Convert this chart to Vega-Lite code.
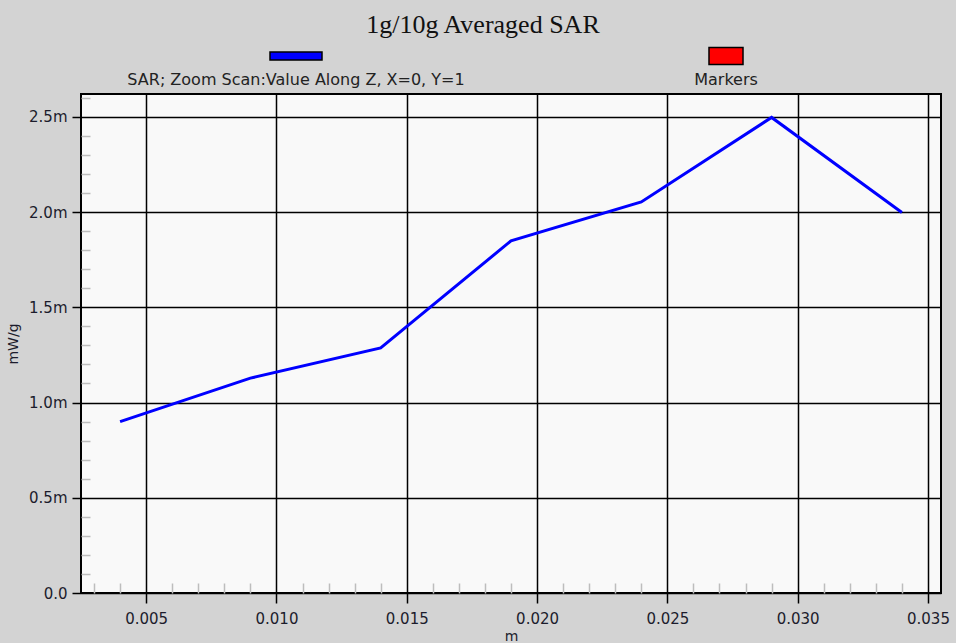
{
  "$schema": "https://vega.github.io/schema/vega-lite/v6.json",
  "background": "#d3d3d3",
  "padding": {"left": 5, "top": 12, "right": 5, "bottom": 5},
  "bounds": "flush",
  "spacing": 26,
  "title": {
    "text": "1g/10g Averaged SAR",
    "font": "Liberation Serif",
    "fontSize": 26,
    "fontWeight": "normal",
    "color": "#111111",
    "anchor": "middle",
    "offset": 6,
    "dx": 5
  },
  "config": {
    "axis": {
      "labelFont": "DejaVu Sans",
      "labelFontSize": 15,
      "labelColor": "#1c1c2c",
      "titleFont": "DejaVu Sans",
      "titleFontSize": 14,
      "titleFontWeight": "normal",
      "titleColor": "#1c1c2c"
    }
  },
  "vconcat": [
    {
      "width": 860,
      "height": 24,
      "view": {"stroke": null, "fill": null},
      "data": {"values": [
        {"series": "SAR; Zoom Scan:Value Along Z, X=0, Y=1"},
        {"series": "Markers"}
      ]},
      "encoding": {
        "x": {"field": "series", "type": "nominal", "axis": null,
              "scale": {"type": "point", "padding": 0.5, "domain": ["SAR; Zoom Scan:Value Along Z, X=0, Y=1", "Markers"]}}
      },
      "layer": [
        {
          "mark": {"type": "point", "filled": true, "size": 2704, "stroke": "#000000", "strokeWidth": 1.5, "opacity": 1, "strokeOpacity": 1},
          "encoding": {
            "shape": {"field": "series", "type": "nominal", "legend": null,
              "scale": {"domain": ["SAR; Zoom Scan:Value Along Z, X=0, Y=1", "Markers"],
                        "range": ["M-1,-0.154L1,-0.154L1,0.154L-1,0.154Z", "M-0.654,-0.327L0.654,-0.327L0.654,0.327L-0.654,0.327Z"]}},
            "fill": {"field": "series", "type": "nominal", "legend": null,
              "scale": {"domain": ["SAR; Zoom Scan:Value Along Z, X=0, Y=1", "Markers"],
                        "range": ["#0000ff", "#ff0000"]}}
          }
        },
        {
          "mark": {"type": "text", "dy": 24, "baseline": "middle", "align": "center", "font": "DejaVu Sans", "fontSize": 16, "color": "#222222"},
          "encoding": {"text": {"field": "series", "type": "nominal"}}
        }
      ]
    },
    {
      "width": 860,
      "height": 499,
      "view": {"stroke": "#000000", "strokeWidth": 2, "fill": "#f9f9f9"},
      "data": {"values": [
        {"z": 0.004, "sar": 0.000900},
        {"z": 0.009, "sar": 0.001128},
        {"z": 0.014, "sar": 0.001287},
        {"z": 0.019, "sar": 0.001849},
        {"z": 0.024, "sar": 0.002053},
        {"z": 0.029, "sar": 0.002497},
        {"z": 0.034, "sar": 0.001998}
      ]},
      "resolve": {"axis": {"x": "independent", "y": "independent"}},
      "layer": [
        {
          "mark": {"type": "line", "strokeOpacity": 0},
          "encoding": {
            "x": {"field": "z", "type": "quantitative",
                  "scale": {"domain": [0.0025, 0.0355], "nice": false, "zero": false},
                  "axis": {"orient": "bottom", "title": null, "labels": false, "domain": false, "grid": false,
                           "tickSize": -10, "tickColor": "#bdbdbd", "tickWidth": 1.5,
                           "values": [0.003,0.004,0.006,0.007,0.008,0.009,0.011,0.012,0.013,0.014,0.016,0.017,0.018,0.019,0.021,0.022,0.023,0.024,0.026,0.027,0.028,0.029,0.031,0.032,0.033,0.034]}},
            "y": {"field": "sar", "type": "quantitative",
                  "scale": {"domain": [0, 0.00262], "nice": false, "zero": true},
                  "axis": {"orient": "left", "title": null, "labels": false, "domain": false, "grid": false,
                           "tickSize": -9, "tickColor": "#bdbdbd", "tickWidth": 1.5,
                           "values": [0.0001,0.0002,0.0003,0.0004,0.0006,0.0007,0.0008,0.0009,0.0011,0.0012,0.0013,0.0014,0.0016,0.0017,0.0018,0.0019,0.0021,0.0022,0.0023,0.0024,0.0026]}}
          }
        },
        {
          "mark": {"type": "line", "color": "#0000ff", "strokeWidth": 3},
          "encoding": {
            "x": {"field": "z", "type": "quantitative",
                  "axis": {"orient": "bottom", "title": "m", "titlePadding": 3, "domain": false,
                           "grid": true, "gridColor": "#000000", "gridWidth": 1.5, "gridOpacity": 1,
                           "tickColor": "#000000", "tickWidth": 1.5, "tickSize": 10, "labelPadding": 8,
                           "format": ".3f",
                           "values": [0.005, 0.01, 0.015, 0.02, 0.025, 0.03, 0.035]}},
            "y": {"field": "sar", "type": "quantitative",
                  "axis": {"orient": "left", "title": "mW/g", "titlePadding": 8, "domain": false,
                           "grid": true, "gridColor": "#000000", "gridWidth": 1.5, "gridOpacity": 1,
                           "tickColor": "#000000", "tickWidth": 1.5, "tickSize": 9, "labelPadding": 5,
                           "values": [0, 0.0005, 0.001, 0.0015, 0.002, 0.0025],
                           "labelExpr": "datum.value == 0 ? '0.0' : format(datum.value * 1000, '.1f') + 'm'"}}
          }
        }
      ]
    }
  ]
}
